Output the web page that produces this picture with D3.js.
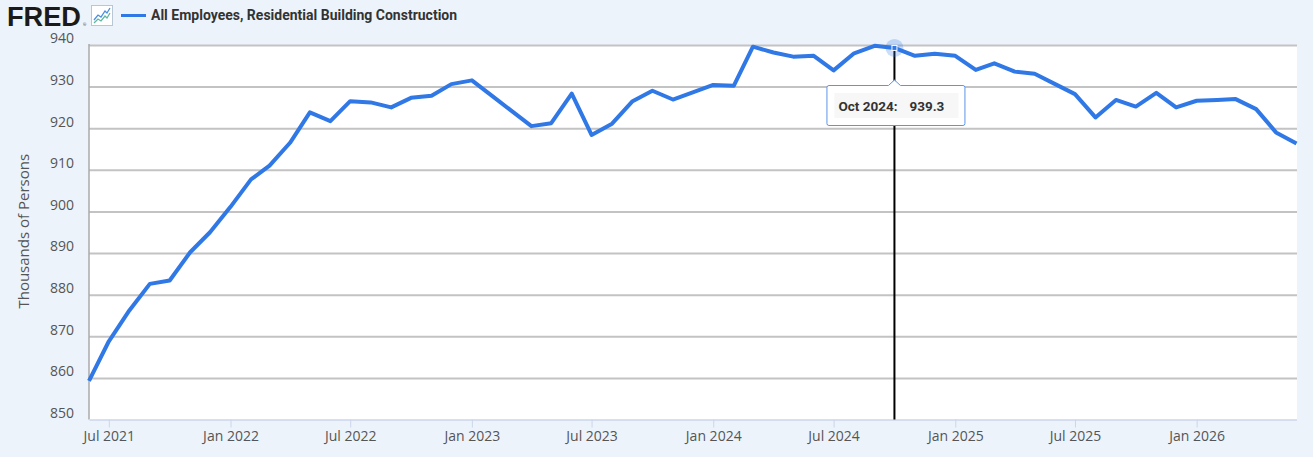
<!DOCTYPE html>
<html>
<head>
<meta charset="utf-8">
<script src="https://cdn.jsdelivr.net/npm/d3@7"></script>
<style>
  html, body { margin: 0; padding: 0; background: #ecf3fb; }
  #canvas { width: 1313px; height: 457px; }
</style>
</head>
<body>
<div id="canvas"></div>
<script>
// Monthly series, Jun 2021 .. Jun 2026 (thousands of persons)
const startMonth = "2021-06";
const endMonth = "2026-06";
const values = [
  859.3, 868.8, 876.2, 882.6, 883.4, 890.2, 895.0,
  901.1, 907.7, 911.0, 916.5, 923.8, 921.7, 926.5, 926.2, 925.0, 927.3, 927.8, 930.6,
  931.5, 927.7, 924.3, 920.5, 921.2, 928.3, 918.4, 921.1, 926.5, 929.0, 926.9, 928.6,
  930.4, 930.2, 939.6, 938.2, 937.2, 937.4, 933.9, 938.0, 939.8, 939.3, 937.4, 937.9,
  937.4, 934.0, 935.6, 933.6, 933.1, 930.6, 928.2, 922.6, 926.8, 925.2, 928.5, 925.0,
  926.6, 926.8, 927.0, 924.6, 919.0, 916.3
];
const yTicks = [850, 860, 870, 880, 890, 900, 910, 920, 930, 940];
const seriesName = "All Employees, Residential Building Construction";
const yTitle = "Thousands of Persons";
const hoverMonth = "2024-10";

const parseMonth = d3.timeParse("%Y-%m");
const months = d3.timeMonth.range(parseMonth(startMonth), d3.timeMonth.offset(parseMonth(endMonth), 1));
const data = months.map((d, i) => ({ date: d, value: values[i] }));

const W = 1313, H = 457;
const plot = { left: 89, right: 1297, top: 45, bottom: 419.5 };
const blue = "#2f78e6";

const svg = d3.select("#canvas")
  .append("svg")
  .attr("width", W)
  .attr("height", H)
  .style("font-family", "'Open Sans', sans-serif");

const x = d3.scaleTime()
  .domain([parseMonth(startMonth), parseMonth(endMonth)])
  .range([plot.left, plot.right - 0.5]);

const y = d3.scaleLinear()
  .domain([850, 940])
  .range([plot.bottom, plot.top]);

// plot background
svg.append("rect")
  .attr("x", plot.left)
  .attr("y", plot.top)
  .attr("width", plot.right - plot.left)
  .attr("height", plot.bottom - plot.top)
  .attr("fill", "#fff");

// Grid lines + y labels
const yAxis = svg.append("g")
  .attr("transform", `translate(${plot.left},0)`)
  .call(d3.axisLeft(y).tickValues(yTicks).tickSize(-(plot.right - plot.left)).tickSizeOuter(0).tickPadding(15));
yAxis.select(".domain").remove();
yAxis.selectAll(".tick line")
  .attr("stroke", "#c3c3c3")
  .attr("stroke-width", 2);
yAxis.selectAll(".tick line").filter(d => d === 850).remove();
yAxis.selectAll(".tick text")
  .attr("dy", "-0.15em")
  .attr("fill", "#555")
  .style("font-size", "14px")
  .style("font-family", "'Open Sans', sans-serif");

// left axis line
svg.append("line")
  .attr("x1", plot.left).attr("x2", plot.left)
  .attr("y1", plot.top - 1).attr("y2", plot.bottom)
  .attr("stroke", "#aaa").attr("stroke-width", 1.5);

// X axis
const xAxis = svg.append("g")
  .attr("transform", `translate(0,${plot.bottom})`)
  .call(d3.axisBottom(x)
    .ticks(d3.timeMonth.filter(d => d.getMonth() % 6 === 0))
    .tickFormat(d3.timeFormat("%b %Y"))
    .tickSize(8)
    .tickSizeOuter(0)
    .tickPadding(4));
xAxis.select(".domain")
  .attr("stroke", "#ccd6eb")
  .attr("stroke-width", 1.5);
xAxis.selectAll(".tick line").attr("stroke", "#ccd6eb");
xAxis.selectAll(".tick text")
  .attr("fill", "#555")
  .style("font-size", "14px")
  .style("font-family", "'Open Sans', sans-serif");

// Y title
svg.append("text")
  .attr("transform", `translate(29,${(plot.top + plot.bottom) / 2 - 1}) rotate(-90)`)
  .attr("text-anchor", "middle")
  .attr("fill", "#555")
  .style("font-size", "15px")
  .text(yTitle);

// Hover crosshair
const hd = data.find(d => d3.timeFormat("%Y-%m")(d.date) === hoverMonth);
const hx = x(hd.date), hy = y(hd.value);
svg.append("line")
  .attr("x1", hx).attr("x2", hx)
  .attr("y1", hy).attr("y2", plot.bottom)
  .attr("stroke", "#000").attr("stroke-width", 2);

// Series line
const line = d3.line()
  .x(d => x(d.date))
  .y(d => y(d.value));
svg.append("path")
  .datum(data)
  .attr("fill", "none")
  .attr("stroke", blue)
  .attr("stroke-width", 4)
  .attr("stroke-linejoin", "round")
  .attr("d", line);

// hover marker
svg.append("circle")
  .attr("cx", hx).attr("cy", hy).attr("r", 9)
  .attr("fill", blue).attr("opacity", 0.25);
svg.append("rect")
  .attr("x", hx - 2.5).attr("y", hy - 2.5)
  .attr("width", 5).attr("height", 5)
  .attr("fill", blue).attr("stroke", "#fff").attr("stroke-width", 1);

// Tooltip
const tip = svg.append("g").attr("transform", `translate(${hx - 68},${85})`);
tip.append("path")
  .attr("d", "M0.5,2.5 Q0.5,0.5 2.5,0.5 L62,0.5 L68,-5 L74,0.5 L136.5,0.5 Q138.5,0.5 138.5,2.5 L138.5,38.5 Q138.5,40.5 136.5,40.5 L2.5,40.5 Q0.5,40.5 0.5,38.5 Z")
  .attr("fill", "#fff")
  .attr("stroke", "#5b94e8")
  .attr("stroke-width", 1);
tip.append("rect")
  .attr("x", 8).attr("y", 8).attr("width", 124).attr("height", 25)
  .attr("fill", "#f7f7f7");
const tt = tip.append("text")
  .attr("y", 26)
  .attr("fill", "#333")
  .style("font-family", "Roboto, 'Liberation Sans', sans-serif")
  .style("font-size", "13.5px")
  .style("font-weight", "bold");
tt.append("tspan").attr("x", 12).text(d3.timeFormat("%b %Y")(hd.date) + ":");
tt.append("tspan").attr("x", 83).text(d3.format(".1f")(hd.value));

// Header: FRED logo
const logo = svg.append("g");
logo.append("text")
  .attr("x", 7).attr("y", 26)
  .attr("fill", "#1a1a1a")
  .attr("textLength", 74)
  .attr("lengthAdjust", "spacingAndGlyphs")
  .style("font-family", "'Liberation Sans', Arial, sans-serif")
  .style("font-size", "27px")
  .style("font-weight", "900")
  .text("FRED");
logo.append("text")
  .attr("x", 83).attr("y", 26)
  .attr("fill", "#333")
  .style("font-size", "4px")
  .text("®");
// small chart icon
const icon = logo.append("g").attr("transform", "translate(91,5)");
icon.append("rect")
  .attr("x", 0.5).attr("y", 0.5).attr("width", 21).attr("height", 20)
  .attr("fill", "#fff").attr("stroke", "#b9c6d6");
icon.append("path")
  .attr("d", "M3,15 L7,10 L10,12 L14,6 L16,8 L19,3")
  .attr("fill", "none").attr("stroke", "#4a8fe0").attr("stroke-width", 1.3);
icon.append("path")
  .attr("d", "M3,18 L7,14 L10,16 L14,11 L16,13 L19,8")
  .attr("fill", "none").attr("stroke", "#5fb8a0").attr("stroke-width", 1.3);

// Legend
svg.append("line")
  .attr("x1", 121).attr("x2", 146)
  .attr("y1", 15.5).attr("y2", 15.5)
  .attr("stroke", blue).attr("stroke-width", 3);
svg.append("text")
  .attr("x", 151).attr("y", 20)
  .attr("fill", "#333")
  .style("font-family", "Roboto, 'Liberation Sans', sans-serif")
  .style("font-size", "14px")
  .style("font-weight", "bold")
  .text(seriesName);
</script>
</body>
</html>
